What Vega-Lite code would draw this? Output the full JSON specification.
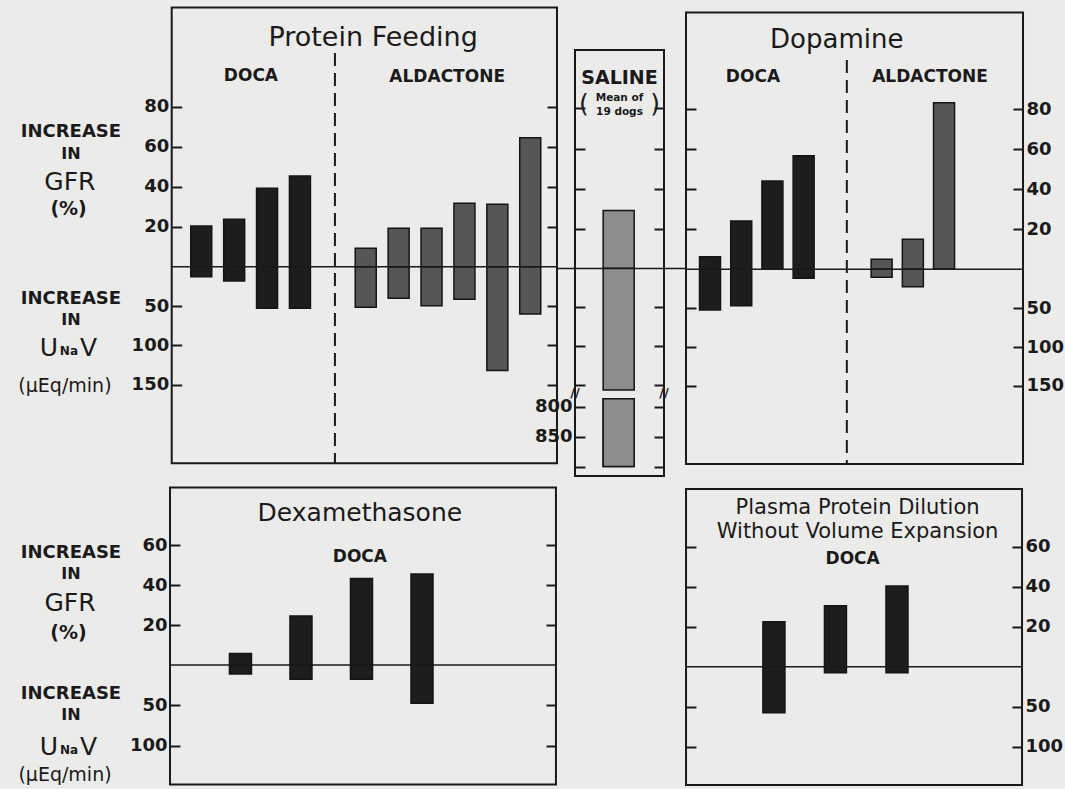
{
"$schema": "https://vega.github.io/schema/vega-lite/v6.json",
"background": "#ebebe9",
"width": 1065, "height": 789,
"autosize": {"type": "none"},
"padding": 0,
"datasets": {"bars": [
 {"panel":"PF","drug":"DOCA","idx":1,"gfr":20.3,"unav":12.7},
 {"panel":"PF","drug":"DOCA","idx":2,"gfr":23.7,"unav":18.1},
 {"panel":"PF","drug":"DOCA","idx":3,"gfr":39.2,"unav":52.8},
 {"panel":"PF","drug":"DOCA","idx":4,"gfr":45.3,"unav":52.8},
 {"panel":"PF","drug":"ALDACTONE","idx":6,"gfr":9.2,"unav":51.5},
 {"panel":"PF","drug":"ALDACTONE","idx":7,"gfr":19.2,"unav":40.1},
 {"panel":"PF","drug":"ALDACTONE","idx":8,"gfr":19.2,"unav":49.5},
 {"panel":"PF","drug":"ALDACTONE","idx":9,"gfr":31.7,"unav":41.4},
 {"panel":"PF","drug":"ALDACTONE","idx":10,"gfr":31.2,"unav":131.7},
 {"panel":"PF","drug":"ALDACTONE","idx":11,"gfr":64.5,"unav":60},
 {"panel":"SAL","drug":"Saline","idx":1,"gfr":29,"unav":900},
 {"panel":"DOP","drug":"DOCA","idx":1,"gfr":6.3,"unav":52.3},
 {"panel":"DOP","drug":"DOCA","idx":2,"gfr":24.2,"unav":46.8},
 {"panel":"DOP","drug":"DOCA","idx":3,"gfr":44.2,"unav":0},
 {"panel":"DOP","drug":"DOCA","idx":4,"gfr":56.8,"unav":11.6},
 {"panel":"DOP","drug":"ALDACTONE","idx":6.5,"gfr":5,"unav":10.3},
 {"panel":"DOP","drug":"ALDACTONE","idx":7.5,"gfr":15,"unav":22.4},
 {"panel":"DOP","drug":"ALDACTONE","idx":8.5,"gfr":83.3,"unav":0},
 {"panel":"DEX","drug":"DOCA","idx":1,"gfr":5.8,"unav":11.2},
 {"panel":"DEX","drug":"DOCA","idx":2,"gfr":24.5,"unav":17.7},
 {"panel":"DEX","drug":"DOCA","idx":3,"gfr":43.2,"unav":17.7},
 {"panel":"DEX","drug":"DOCA","idx":4,"gfr":45.5,"unav":47.5},
 {"panel":"PPD","drug":"DOCA","idx":1,"gfr":22.5,"unav":57.5},
 {"panel":"PPD","drug":"DOCA","idx":2,"gfr":30.5,"unav":7.5},
 {"panel":"PPD","drug":"DOCA","idx":3,"gfr":40.3,"unav":7.5}
]},
"layer": [
 {"data": {"values": [{}]}, "mark": {"type": "rect", "fillOpacity": 0, "stroke": "#1a1a1a", "strokeWidth": 2},
  "encoding": {"x": {"datum": 0.205, "scale": {"domain": [-4.9654, 27.1033], "nice": false, "zero": false}, "axis": null}, "x2": {"datum": 11.806},
   "y": {"datum": -328.93, "type": "quantitative", "scale": {"domain": [-338.45, 662.82], "reverse": true, "nice": false, "zero": false}, "axis": {"orient": "right", "offset": -518, "values": [50, 100, 150], "labels": false, "title": null}}, "y2": {"datum": 249.49}}},
 {"data": {"name": "bars"}, "transform": [{"filter": "datum.panel === 'PF'"}],
  "mark": {"type": "bar", "orient": "vertical", "size": 21, "stroke": "#141414", "strokeWidth": 1.5},
  "encoding": {
   "x": {"field": "idx", "type": "quantitative", "scale": {"domain": [-4.9654, 27.1033], "nice": false, "zero": false}, "axis": null},
   "y": {"field": "gfr", "type": "quantitative", "scale": {"domain": [-261.15, 133.35], "nice": false, "zero": false}, "axis": {"orient": "left", "offset": -181.7, "values": [20, 40, 60, 80], "title": null}},
   "y2": {"datum": 0},
   "color": {"field": "drug", "type": "nominal", "scale": {"domain": ["DOCA", "ALDACTONE", "Saline"], "range": ["#1d1d1d", "#565656", "#8d8d8d"]}, "legend": null}}},
 {"data": {"name": "bars"}, "transform": [{"filter": "datum.panel === 'PF'"}],
  "mark": {"type": "bar", "orient": "vertical", "size": 21, "stroke": "#141414", "strokeWidth": 1.5},
  "encoding": {
   "x": {"field": "idx", "type": "quantitative", "scale": {"domain": [-4.9654, 27.1033], "nice": false, "zero": false}, "axis": null},
   "y": {"field": "unav", "type": "quantitative", "scale": {"domain": [-338.45, 662.82], "reverse": true, "nice": false, "zero": false}, "axis": {"orient": "left", "offset": -181.7, "values": [50, 100, 150], "title": null}},
   "y2": {"datum": 0},
   "color": {"field": "drug", "type": "nominal", "legend": null}}},
 {"data": {"values": [{}]}, "mark": {"type": "rule", "color": "#1a1a1a", "strokeWidth": 1.5},
  "encoding": {"x": {"datum": 0.205, "scale": {"domain": [-4.9654, 27.1033], "nice": false, "zero": false}, "axis": null}, "x2": {"datum": 11.806},
   "y": {"datum": 0, "type": "quantitative", "scale": {"domain": [-261.15, 133.35], "nice": false, "zero": false}, "axis": {"orient": "right", "offset": -518, "values": [20, 40, 60, 80], "labels": false, "title": null}}}},
 {"data": {"values": [{}]}, "mark": {"type": "rule", "color": "#1a1a1a", "strokeWidth": 2, "strokeDash": [13, 7]},
  "encoding": {"x": {"datum": 5.12, "scale": {"domain": [-4.9654, 27.1033], "nice": false, "zero": false}, "axis": null}, "y": {"datum": 106.85, "scale": {"domain": [-261.15, 133.35], "nice": false, "zero": false}, "axis": null}, "y2": {"datum": -98.3}}},
 {"data": {"values": [{}]}, "mark": {"type": "text", "text": "Protein Feeding", "fontSize": 27}, "encoding": {"x": {"datum": 6.27, "scale": {"domain": [-4.9654, 27.1033], "nice": false, "zero": false}, "axis": null}, "y": {"datum": 114.3, "scale": {"domain": [-261.15, 133.35], "nice": false, "zero": false}, "axis": null}}},
 {"data": {"values": [{}]}, "mark": {"type": "text", "text": "DOCA", "fontSize": 17, "fontWeight": "bold"}, "encoding": {"x": {"datum": 2.59, "scale": {"domain": [-4.9654, 27.1033], "nice": false, "zero": false}, "axis": null}, "y": {"datum": 95.3, "scale": {"domain": [-261.15, 133.35], "nice": false, "zero": false}, "axis": null}}},
 {"data": {"values": [{}]}, "mark": {"type": "text", "text": "ALDACTONE", "fontSize": 17, "fontWeight": "bold"}, "encoding": {"x": {"datum": 8.5, "scale": {"domain": [-4.9654, 27.1033], "nice": false, "zero": false}, "axis": null}, "y": {"datum": 94.8, "scale": {"domain": [-261.15, 133.35], "nice": false, "zero": false}, "axis": null}}},
 {"data": {"values": [{}]}, "mark": {"type": "text", "text": "INCREASE", "fontSize": 18, "fontWeight": "bold"}, "encoding": {"x": {"datum": -2.83, "scale": {"domain": [-4.9654, 27.1033], "nice": false, "zero": false}, "axis": null}, "y": {"datum": 67.6, "scale": {"domain": [-261.15, 133.35], "nice": false, "zero": false}, "axis": null}}},
 {"data": {"values": [{}]}, "mark": {"type": "text", "text": "IN", "fontSize": 16, "fontWeight": "bold"}, "encoding": {"x": {"datum": -2.83, "scale": {"domain": [-4.9654, 27.1033], "nice": false, "zero": false}, "axis": null}, "y": {"datum": 56.6, "scale": {"domain": [-261.15, 133.35], "nice": false, "zero": false}, "axis": null}}},
 {"data": {"values": [{}]}, "mark": {"type": "text", "text": "GFR", "fontSize": 25}, "encoding": {"x": {"datum": -2.86, "scale": {"domain": [-4.9654, 27.1033], "nice": false, "zero": false}, "axis": null}, "y": {"datum": 42.6, "scale": {"domain": [-261.15, 133.35], "nice": false, "zero": false}, "axis": null}}},
 {"data": {"values": [{}]}, "mark": {"type": "text", "text": "(%)", "fontSize": 19, "fontWeight": "bold"}, "encoding": {"x": {"datum": -2.9, "scale": {"domain": [-4.9654, 27.1033], "nice": false, "zero": false}, "axis": null}, "y": {"datum": 28.85, "scale": {"domain": [-261.15, 133.35], "nice": false, "zero": false}, "axis": null}}},
 {"data": {"values": [{}]}, "mark": {"type": "text", "text": "INCREASE", "fontSize": 18, "fontWeight": "bold"}, "encoding": {"x": {"datum": -2.83, "scale": {"domain": [-4.9654, 27.1033], "nice": false, "zero": false}, "axis": null}, "y": {"datum": -15.9, "scale": {"domain": [-261.15, 133.35], "nice": false, "zero": false}, "axis": null}}},
 {"data": {"values": [{}]}, "mark": {"type": "text", "text": "IN", "fontSize": 16, "fontWeight": "bold"}, "encoding": {"x": {"datum": -2.83, "scale": {"domain": [-4.9654, 27.1033], "nice": false, "zero": false}, "axis": null}, "y": {"datum": -26.65, "scale": {"domain": [-261.15, 133.35], "nice": false, "zero": false}, "axis": null}}},
 {"data": {"values": [{}]}, "mark": {"type": "text", "text": "U", "fontSize": 25}, "encoding": {"x": {"datum": -3.49, "scale": {"domain": [-4.9654, 27.1033], "nice": false, "zero": false}, "axis": null}, "y": {"datum": -40.4, "scale": {"domain": [-261.15, 133.35], "nice": false, "zero": false}, "axis": null}}},
 {"data": {"values": [{}]}, "mark": {"type": "text", "text": "Na", "fontSize": 12, "fontWeight": "bold"}, "encoding": {"x": {"datum": -2.89, "scale": {"domain": [-4.9654, 27.1033], "nice": false, "zero": false}, "axis": null}, "y": {"datum": -42.15, "scale": {"domain": [-261.15, 133.35], "nice": false, "zero": false}, "axis": null}}},
 {"data": {"values": [{}]}, "mark": {"type": "text", "text": "V", "fontSize": 25}, "encoding": {"x": {"datum": -2.3, "scale": {"domain": [-4.9654, 27.1033], "nice": false, "zero": false}, "axis": null}, "y": {"datum": -40.4, "scale": {"domain": [-261.15, 133.35], "nice": false, "zero": false}, "axis": null}}},
 {"data": {"values": [{}]}, "mark": {"type": "text", "text": "(μEq/min)", "fontSize": 19}, "encoding": {"x": {"datum": -3.01, "scale": {"domain": [-4.9654, 27.1033], "nice": false, "zero": false}, "axis": null}, "y": {"datum": -59.65, "scale": {"domain": [-261.15, 133.35], "nice": false, "zero": false}, "axis": null}}},

 {"data": {"values": [{}]}, "mark": {"type": "rect", "fillOpacity": 0, "stroke": "#1a1a1a", "strokeWidth": 2},
  "encoding": {"x": {"datum": 0, "scale": {"domain": [-12.921, 11.011], "nice": false, "zero": false}, "axis": null}, "x2": {"datum": 2},
   "y": {"datum": 109.25, "type": "quantitative", "scale": {"domain": [-260.25, 134.25], "nice": false, "zero": false}, "axis": {"orient": "left", "offset": -585, "values": [20, 40, 60, 80], "labels": false, "title": null}}, "y2": {"datum": -103.75}}},
 {"data": {"name": "bars"}, "transform": [{"filter": "datum.panel === 'SAL'"}],
  "mark": {"type": "bar", "orient": "vertical", "size": 31, "stroke": "#141414", "strokeWidth": 1.5},
  "encoding": {
   "x": {"field": "idx", "type": "quantitative", "scale": {"domain": [-12.921, 11.011], "nice": false, "zero": false}, "axis": null},
   "y": {"field": "gfr", "type": "quantitative", "scale": {"domain": [-260.25, 134.25], "nice": false, "zero": false}, "axis": {"orient": "right", "offset": -411, "values": [20, 40, 60, 80], "labels": false, "title": null}},
   "y2": {"datum": 0},
   "color": {"field": "drug", "type": "nominal", "legend": null}}},
 {"data": {"values": [{}]}, "mark": {"type": "rule", "color": "#1a1a1a", "strokeWidth": 1.5},
  "encoding": {"x": {"datum": -0.404, "scale": {"domain": [-12.921, 11.011], "nice": false, "zero": false}, "axis": null}, "x2": {"datum": 2.494}, "y": {"datum": 0, "scale": {"domain": [-260.25, 134.25], "nice": false, "zero": false}, "axis": null}}},
 {"data": {"values": [{}]}, "mark": {"type": "text", "text": "SALINE", "fontSize": 19, "fontWeight": "bold"}, "encoding": {"x": {"datum": 1, "scale": {"domain": [-12.921, 11.011], "nice": false, "zero": false}, "axis": null}, "y": {"datum": 95.25, "scale": {"domain": [-260.25, 134.25], "nice": false, "zero": false}, "axis": null}}},
 {"data": {"values": [{}]}, "mark": {"type": "text", "text": "Mean of", "fontSize": 10.5, "fontWeight": "bold"}, "encoding": {"x": {"datum": 1, "scale": {"domain": [-12.921, 11.011], "nice": false, "zero": false}, "axis": null}, "y": {"datum": 85.5, "scale": {"domain": [-260.25, 134.25], "nice": false, "zero": false}, "axis": null}}},
 {"data": {"values": [{}]}, "mark": {"type": "text", "text": "19 dogs", "fontSize": 10.5, "fontWeight": "bold"}, "encoding": {"x": {"datum": 1, "scale": {"domain": [-12.921, 11.011], "nice": false, "zero": false}, "axis": null}, "y": {"datum": 78.5, "scale": {"domain": [-260.25, 134.25], "nice": false, "zero": false}, "axis": null}}},
 {"data": {"values": [{}]}, "mark": {"type": "text", "text": "(", "fontSize": 25}, "encoding": {"x": {"datum": 0.2, "scale": {"domain": [-12.921, 11.011], "nice": false, "zero": false}, "axis": null}, "y": {"datum": 82.25, "scale": {"domain": [-260.25, 134.25], "nice": false, "zero": false}, "axis": null}}},
 {"data": {"values": [{}]}, "mark": {"type": "text", "text": ")", "fontSize": 25}, "encoding": {"x": {"datum": 1.8, "scale": {"domain": [-12.921, 11.011], "nice": false, "zero": false}, "axis": null}, "y": {"datum": 82.25, "scale": {"domain": [-260.25, 134.25], "nice": false, "zero": false}, "axis": null}}},
 {"data": {"name": "bars"}, "transform": [{"filter": "datum.panel === 'SAL'"}],
  "mark": {"type": "bar", "orient": "vertical", "size": 31, "stroke": "#141414", "strokeWidth": 1.5},
  "encoding": {
   "x": {"field": "idx", "type": "quantitative", "scale": {"domain": [-12.921, 11.011], "nice": false, "zero": false}, "axis": null},
   "y": {"datum": 155.8, "type": "quantitative", "scale": {"domain": [-344.23, 667.31], "reverse": true, "nice": false, "zero": false}, "axis": {"orient": "left", "offset": -585, "values": [50, 100, 150], "labels": false, "title": null}},
   "y2": {"datum": 0},
   "color": {"field": "drug", "type": "nominal", "legend": null}}},
 {"data": {"values": [{}]}, "mark": {"type": "text", "text": "//", "fontSize": 13, "fontWeight": "bold"},
  "encoding": {"x": {"datum": 2, "scale": {"domain": [-12.921, 11.011], "nice": false, "zero": false}, "axis": null}, "y": {"datum": 159.6, "type": "quantitative", "scale": {"domain": [-344.23, 667.31], "reverse": true, "nice": false, "zero": false}, "axis": {"orient": "right", "offset": -411, "values": [50, 100, 150], "labels": false, "title": null}}}},
 {"data": {"values": [{}]}, "mark": {"type": "text", "text": "//", "fontSize": 13, "fontWeight": "bold"},
  "encoding": {"x": {"datum": 0, "scale": {"domain": [-12.921, 11.011], "nice": false, "zero": false}, "axis": null}, "y": {"datum": 159.6, "scale": {"domain": [-344.23, 667.31], "reverse": true, "nice": false, "zero": false}, "axis": null}}},
 {"data": {"name": "bars"}, "transform": [{"filter": "datum.panel === 'SAL'"}],
  "mark": {"type": "bar", "orient": "vertical", "size": 31, "stroke": "#141414", "strokeWidth": 1.5},
  "encoding": {
   "x": {"field": "idx", "type": "quantitative", "scale": {"domain": [-12.921, 11.011], "nice": false, "zero": false}, "axis": null},
   "y": {"field": "unav", "type": "quantitative", "scale": {"domain": [122.5, 1437.5], "reverse": true, "nice": false, "zero": false}, "axis": {"orient": "left", "offset": -585, "values": [800, 850, 900], "labelExpr": "datum.value == 900 ? '' : datum.label", "title": null}},
   "y2": {"datum": 787},
   "color": {"field": "drug", "type": "nominal", "legend": null}}},
 {"data": {"name": "bars"}, "transform": [{"filter": "datum.panel === 'SAL'"}],
  "mark": {"type": "bar", "orient": "vertical", "size": 31, "stroke": "#141414", "strokeWidth": 1.5},
  "encoding": {
   "x": {"field": "idx", "type": "quantitative", "scale": {"domain": [-12.921, 11.011], "nice": false, "zero": false}, "axis": null},
   "y": {"field": "unav", "type": "quantitative", "scale": {"domain": [122.5, 1437.5], "reverse": true, "nice": false, "zero": false}, "axis": {"orient": "right", "offset": -411, "values": [800, 850, 900], "labels": false, "title": null}},
   "y2": {"datum": 787},
   "color": {"field": "drug", "type": "nominal", "legend": null}}},

 {"data": {"values": [{}]}, "mark": {"type": "rect", "fillOpacity": 0, "stroke": "#1a1a1a", "strokeWidth": 2},
  "encoding": {"x": {"datum": 0.184, "scale": {"domain": [-21.594, 12.216], "nice": false, "zero": false}, "axis": null}, "x2": {"datum": 10.883},
   "y": {"datum": -330.08, "type": "quantitative", "scale": {"domain": [-346.14, 668.0], "reverse": true, "nice": false, "zero": false}, "axis": {"orient": "left", "offset": -696, "values": [50, 100, 150], "labels": false, "title": null}}, "y2": {"datum": 250.39}}},
 {"data": {"name": "bars"}, "transform": [{"filter": "datum.panel === 'DOP'"}],
  "mark": {"type": "bar", "orient": "vertical", "size": 21, "stroke": "#141414", "strokeWidth": 1.5},
  "encoding": {
   "x": {"field": "idx", "type": "quantitative", "scale": {"domain": [-21.594, 12.216], "nice": false, "zero": false}, "axis": null},
   "y": {"field": "gfr", "type": "quantitative", "scale": {"domain": [-259.85, 134.65], "nice": false, "zero": false}, "axis": {"orient": "right", "offset": -52, "values": [20, 40, 60, 80], "title": null}},
   "y2": {"datum": 0},
   "color": {"field": "drug", "type": "nominal", "legend": null}}},
 {"data": {"name": "bars"}, "transform": [{"filter": "datum.panel === 'DOP'"}],
  "mark": {"type": "bar", "orient": "vertical", "size": 21, "stroke": "#141414", "strokeWidth": 1.5},
  "encoding": {
   "x": {"field": "idx", "type": "quantitative", "scale": {"domain": [-21.594, 12.216], "nice": false, "zero": false}, "axis": null},
   "y": {"field": "unav", "type": "quantitative", "scale": {"domain": [-346.14, 668.0], "reverse": true, "nice": false, "zero": false}, "axis": {"orient": "right", "offset": -52, "values": [50, 100, 150], "title": null}},
   "y2": {"datum": 0},
   "color": {"field": "drug", "type": "nominal", "legend": null}}},
 {"data": {"values": [{}]}, "mark": {"type": "rule", "color": "#1a1a1a", "strokeWidth": 1.5},
  "encoding": {"x": {"datum": 0.184, "scale": {"domain": [-21.594, 12.216], "nice": false, "zero": false}, "axis": null}, "x2": {"datum": 10.883},
   "y": {"datum": 0, "type": "quantitative", "scale": {"domain": [-259.85, 134.65], "nice": false, "zero": false}, "axis": {"orient": "left", "offset": -696, "values": [20, 40, 60, 80], "labels": false, "title": null}}}},
 {"data": {"values": [{}]}, "mark": {"type": "rule", "color": "#1a1a1a", "strokeWidth": 2, "strokeDash": [13, 7]},
  "encoding": {"x": {"datum": 5.29, "scale": {"domain": [-21.594, 12.216], "nice": false, "zero": false}, "axis": null}, "y": {"datum": 104.65, "scale": {"domain": [-259.85, 134.65], "nice": false, "zero": false}, "axis": null}, "y2": {"datum": -97.35}}},
 {"data": {"values": [{}]}, "mark": {"type": "text", "text": "Dopamine", "fontSize": 26}, "encoding": {"x": {"datum": 4.97, "scale": {"domain": [-21.594, 12.216], "nice": false, "zero": false}, "axis": null}, "y": {"datum": 114.65, "scale": {"domain": [-259.85, 134.65], "nice": false, "zero": false}, "axis": null}}},
 {"data": {"values": [{}]}, "mark": {"type": "text", "text": "DOCA", "fontSize": 17, "fontWeight": "bold"}, "encoding": {"x": {"datum": 2.31, "scale": {"domain": [-21.594, 12.216], "nice": false, "zero": false}, "axis": null}, "y": {"datum": 96, "scale": {"domain": [-259.85, 134.65], "nice": false, "zero": false}, "axis": null}}},
 {"data": {"values": [{}]}, "mark": {"type": "text", "text": "ALDACTONE", "fontSize": 17, "fontWeight": "bold"}, "encoding": {"x": {"datum": 7.93, "scale": {"domain": [-21.594, 12.216], "nice": false, "zero": false}, "axis": null}, "y": {"datum": 96.15, "scale": {"domain": [-259.85, 134.65], "nice": false, "zero": false}, "axis": null}}},

 {"data": {"values": [{}]}, "mark": {"type": "rect", "fillOpacity": 0, "stroke": "#1a1a1a", "strokeWidth": 2},
  "encoding": {"x": {"datum": -0.108, "scale": {"domain": [-2.891, 14.543], "nice": false, "zero": false}, "axis": null}, "x2": {"datum": 6.21},
   "y": {"datum": -219.95, "type": "quantitative", "scale": {"domain": [-824.0, 153.66], "reverse": true, "nice": false, "zero": false}, "axis": {"orient": "right", "offset": -519, "values": [50, 100], "labels": false, "title": null}}, "y2": {"datum": 148.08}}},
 {"data": {"name": "bars"}, "transform": [{"filter": "datum.panel === 'DEX'"}],
  "mark": {"type": "bar", "orient": "vertical", "size": 22, "stroke": "#141414", "strokeWidth": 1.5},
  "encoding": {
   "x": {"field": "idx", "type": "quantitative", "scale": {"domain": [-2.891, 14.543], "nice": false, "zero": false}, "axis": null},
   "y": {"field": "gfr", "type": "quantitative", "scale": {"domain": [-62, 332.5], "nice": false, "zero": false}, "axis": {"orient": "left", "offset": -180, "values": [20, 40, 60], "title": null}},
   "y2": {"datum": 0},
   "color": {"field": "drug", "type": "nominal", "legend": null}}},
 {"data": {"name": "bars"}, "transform": [{"filter": "datum.panel === 'DEX'"}],
  "mark": {"type": "bar", "orient": "vertical", "size": 22, "stroke": "#141414", "strokeWidth": 1.5},
  "encoding": {
   "x": {"field": "idx", "type": "quantitative", "scale": {"domain": [-2.891, 14.543], "nice": false, "zero": false}, "axis": null},
   "y": {"field": "unav", "type": "quantitative", "scale": {"domain": [-824.0, 153.66], "reverse": true, "nice": false, "zero": false}, "axis": {"orient": "left", "offset": -180, "values": [50, 100], "title": null}},
   "y2": {"datum": 0},
   "color": {"field": "drug", "type": "nominal", "legend": null}}},
 {"data": {"values": [{}]}, "mark": {"type": "rule", "color": "#1a1a1a", "strokeWidth": 1.5},
  "encoding": {"x": {"datum": -0.108, "scale": {"domain": [-2.891, 14.543], "nice": false, "zero": false}, "axis": null}, "x2": {"datum": 6.21},
   "y": {"datum": 0, "type": "quantitative", "scale": {"domain": [-62, 332.5], "nice": false, "zero": false}, "axis": {"orient": "right", "offset": -519, "values": [20, 40, 60], "labels": false, "title": null}}}},
 {"data": {"values": [{}]}, "mark": {"type": "text", "text": "Dexamethasone", "fontSize": 25}, "encoding": {"x": {"datum": 3.0, "scale": {"domain": [-2.891, 14.543], "nice": false, "zero": false}, "axis": null}, "y": {"datum": 75.8, "scale": {"domain": [-62, 332.5], "nice": false, "zero": false}, "axis": null}}},
 {"data": {"values": [{}]}, "mark": {"type": "text", "text": "DOCA", "fontSize": 17, "fontWeight": "bold"}, "encoding": {"x": {"datum": 3.0, "scale": {"domain": [-2.891, 14.543], "nice": false, "zero": false}, "axis": null}, "y": {"datum": 53.8, "scale": {"domain": [-62, 332.5], "nice": false, "zero": false}, "axis": null}}},
 {"data": {"values": [{}]}, "mark": {"type": "text", "text": "INCREASE", "fontSize": 18, "fontWeight": "bold"}, "encoding": {"x": {"datum": -1.729, "scale": {"domain": [-2.891, 14.543], "nice": false, "zero": false}, "axis": null}, "y": {"datum": 56.2, "scale": {"domain": [-62, 332.5], "nice": false, "zero": false}, "axis": null}}},
 {"data": {"values": [{}]}, "mark": {"type": "text", "text": "IN", "fontSize": 16, "fontWeight": "bold"}, "encoding": {"x": {"datum": -1.729, "scale": {"domain": [-2.891, 14.543], "nice": false, "zero": false}, "axis": null}, "y": {"datum": 45.4, "scale": {"domain": [-62, 332.5], "nice": false, "zero": false}, "axis": null}}},
 {"data": {"values": [{}]}, "mark": {"type": "text", "text": "GFR", "fontSize": 25}, "encoding": {"x": {"datum": -1.745, "scale": {"domain": [-2.891, 14.543], "nice": false, "zero": false}, "axis": null}, "y": {"datum": 31.2, "scale": {"domain": [-62, 332.5], "nice": false, "zero": false}, "axis": null}}},
 {"data": {"values": [{}]}, "mark": {"type": "text", "text": "(%)", "fontSize": 19, "fontWeight": "bold"}, "encoding": {"x": {"datum": -1.77, "scale": {"domain": [-2.891, 14.543], "nice": false, "zero": false}, "axis": null}, "y": {"datum": 15.9, "scale": {"domain": [-62, 332.5], "nice": false, "zero": false}, "axis": null}}},
 {"data": {"values": [{}]}, "mark": {"type": "text", "text": "INCREASE", "fontSize": 18, "fontWeight": "bold"}, "encoding": {"x": {"datum": -1.729, "scale": {"domain": [-2.891, 14.543], "nice": false, "zero": false}, "axis": null}, "y": {"datum": -14.5, "scale": {"domain": [-62, 332.5], "nice": false, "zero": false}, "axis": null}}},
 {"data": {"values": [{}]}, "mark": {"type": "text", "text": "IN", "fontSize": 16, "fontWeight": "bold"}, "encoding": {"x": {"datum": -1.729, "scale": {"domain": [-2.891, 14.543], "nice": false, "zero": false}, "axis": null}, "y": {"datum": -25, "scale": {"domain": [-62, 332.5], "nice": false, "zero": false}, "axis": null}}},
 {"data": {"values": [{}]}, "mark": {"type": "text", "text": "U", "fontSize": 25}, "encoding": {"x": {"datum": -2.089, "scale": {"domain": [-2.891, 14.543], "nice": false, "zero": false}, "axis": null}, "y": {"datum": -41, "scale": {"domain": [-62, 332.5], "nice": false, "zero": false}, "axis": null}}},
 {"data": {"values": [{}]}, "mark": {"type": "text", "text": "Na", "fontSize": 12, "fontWeight": "bold"}, "encoding": {"x": {"datum": -1.761, "scale": {"domain": [-2.891, 14.543], "nice": false, "zero": false}, "axis": null}, "y": {"datum": -42.5, "scale": {"domain": [-62, 332.5], "nice": false, "zero": false}, "axis": null}}},
 {"data": {"values": [{}]}, "mark": {"type": "text", "text": "V", "fontSize": 25}, "encoding": {"x": {"datum": -1.442, "scale": {"domain": [-2.891, 14.543], "nice": false, "zero": false}, "axis": null}, "y": {"datum": -41, "scale": {"domain": [-62, 332.5], "nice": false, "zero": false}, "axis": null}}},
 {"data": {"values": [{}]}, "mark": {"type": "text", "text": "(μEq/min)", "fontSize": 19}, "encoding": {"x": {"datum": -1.827, "scale": {"domain": [-2.891, 14.543], "nice": false, "zero": false}, "axis": null}, "y": {"datum": -55, "scale": {"domain": [-62, 332.5], "nice": false, "zero": false}, "axis": null}}},

 {"data": {"values": [{}]}, "mark": {"type": "rect", "fillOpacity": 0, "stroke": "#1a1a1a", "strokeWidth": 2},
  "encoding": {"x": {"datum": -0.4525, "scale": {"domain": [-11.499, 5.65], "nice": false, "zero": false}, "axis": null}, "x2": {"datum": 4.958},
   "y": {"datum": -222.13, "type": "quantitative", "scale": {"domain": [-833.4, 152.9], "reverse": true, "nice": false, "zero": false}, "axis": {"orient": "left", "offset": -696, "values": [50, 100], "labels": false, "title": null}}, "y2": {"datum": 147.88}}},
 {"data": {"name": "bars"}, "transform": [{"filter": "datum.panel === 'PPD'"}],
  "mark": {"type": "bar", "orient": "vertical", "size": 22, "stroke": "#141414", "strokeWidth": 1.5},
  "encoding": {
   "x": {"field": "idx", "type": "quantitative", "scale": {"domain": [-11.499, 5.65], "nice": false, "zero": false}, "axis": null},
   "y": {"field": "gfr", "type": "quantitative", "scale": {"domain": [-61.15, 333.35], "nice": false, "zero": false}, "axis": {"orient": "right", "offset": -53, "values": [20, 40, 60], "title": null}},
   "y2": {"datum": 0},
   "color": {"field": "drug", "type": "nominal", "legend": null}}},
 {"data": {"name": "bars"}, "transform": [{"filter": "datum.panel === 'PPD'"}],
  "mark": {"type": "bar", "orient": "vertical", "size": 22, "stroke": "#141414", "strokeWidth": 1.5},
  "encoding": {
   "x": {"field": "idx", "type": "quantitative", "scale": {"domain": [-11.499, 5.65], "nice": false, "zero": false}, "axis": null},
   "y": {"field": "unav", "type": "quantitative", "scale": {"domain": [-833.4, 152.9], "reverse": true, "nice": false, "zero": false}, "axis": {"orient": "right", "offset": -53, "values": [50, 100], "title": null}},
   "y2": {"datum": 0},
   "color": {"field": "drug", "type": "nominal", "legend": null}}},
 {"data": {"values": [{}]}, "mark": {"type": "rule", "color": "#1a1a1a", "strokeWidth": 1.5},
  "encoding": {"x": {"datum": -0.4525, "scale": {"domain": [-11.499, 5.65], "nice": false, "zero": false}, "axis": null}, "x2": {"datum": 4.958},
   "y": {"datum": 0, "type": "quantitative", "scale": {"domain": [-61.15, 333.35], "nice": false, "zero": false}, "axis": {"orient": "left", "offset": -696, "values": [20, 40, 60], "labels": false, "title": null}}}},
 {"data": {"values": [{}]}, "mark": {"type": "text", "text": "Plasma Protein Dilution", "fontSize": 21}, "encoding": {"x": {"datum": 2.31, "scale": {"domain": [-11.499, 5.65], "nice": false, "zero": false}, "axis": null}, "y": {"datum": 79.35, "scale": {"domain": [-61.15, 333.35], "nice": false, "zero": false}, "axis": null}}},
 {"data": {"values": [{}]}, "mark": {"type": "text", "text": "Without Volume Expansion", "fontSize": 21}, "encoding": {"x": {"datum": 2.31, "scale": {"domain": [-11.499, 5.65], "nice": false, "zero": false}, "axis": null}, "y": {"datum": 67.5, "scale": {"domain": [-61.15, 333.35], "nice": false, "zero": false}, "axis": null}}},
 {"data": {"values": [{}]}, "mark": {"type": "text", "text": "DOCA", "fontSize": 17, "fontWeight": "bold"}, "encoding": {"x": {"datum": 2.23, "scale": {"domain": [-11.499, 5.65], "nice": false, "zero": false}, "axis": null}, "y": {"datum": 53.85, "scale": {"domain": [-61.15, 333.35], "nice": false, "zero": false}, "axis": null}}}
],
"resolve": {"scale": {"x": "independent", "y": "independent"}, "axis": {"x": "independent", "y": "independent"}},
"config": {
 "font": "DejaVu Sans",
 "view": {"stroke": null},
 "axis": {"domain": false, "grid": false, "ticks": true, "tickSize": 10, "tickWidth": 2, "tickColor": "#1a1a1a", "labelFont": "DejaVu Sans", "labelFontSize": 18, "labelFontWeight": "bold", "labelColor": "#1a1a1a", "labelPadding": 3},
 "text": {"color": "#1a1a1a", "baseline": "middle", "align": "center", "font": "DejaVu Sans"}
}
}
